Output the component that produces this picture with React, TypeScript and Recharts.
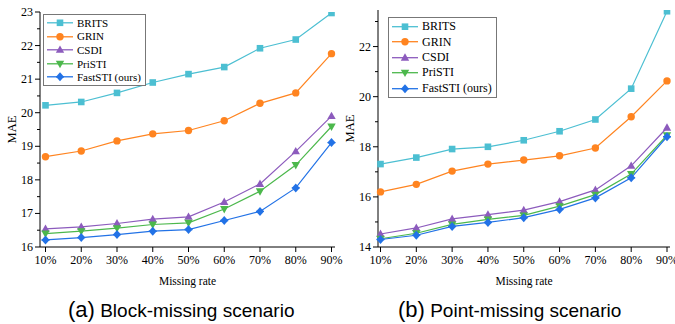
import { LineChart, Line, XAxis, YAxis, Legend } from 'recharts';

const rates = ['10%', '20%', '30%', '40%', '50%', '60%', '70%', '80%', '90%'];

// (a) block-missing
const blockBrits = [20.22, 20.32, 20.59, 20.9, 21.15, 21.36, 21.92, 22.18, 22.97];
const blockGrin = [18.69, 18.86, 19.16, 19.37, 19.47, 19.76, 20.28, 20.59, 21.76];
const blockCsdi = [16.54, 16.6, 16.7, 16.83, 16.9, 17.34, 17.88, 18.85, 19.9];
const blockPristi = [16.4, 16.47, 16.56, 16.67, 16.72, 17.13, 17.66, 18.44, 19.59];
const blockFast = [16.21, 16.28, 16.37, 16.47, 16.52, 16.79, 17.06, 17.76, 19.11];

// (b) point-missing
const pointBrits = [17.31, 17.57, 17.91, 18.0, 18.26, 18.62, 19.09, 20.32, 23.41];
const pointGrin = [16.2, 16.5, 17.03, 17.31, 17.47, 17.64, 17.95, 19.2, 20.63];
const pointCsdi = [14.52, 14.76, 15.12, 15.29, 15.47, 15.81, 16.28, 17.24, 18.76];
const pointPristi = [14.33, 14.55, 14.9, 15.1, 15.26, 15.63, 16.09, 16.91, 18.46];
const pointFast = [14.3, 14.47, 14.82, 14.98, 15.17, 15.5, 15.96, 16.76, 18.4];

const blockTicks = [16, 16.5, 17, 17.5, 18, 18.5, 19, 19.5, 20, 20.5, 21, 21.5, 22, 22.5, 23];
const blockMajor = [16, 17, 18, 19, 20, 21, 22, 23];
const pointTicks = [14, 15, 16, 17, 18, 19, 20, 21, 22, 23];
const pointMajor = [14, 16, 18, 20, 22];

const series = [
  { key: 'BRITS', color: '#4cbfd2', shape: 'square' },
  { key: 'GRIN', color: '#ff8420', shape: 'circle' },
  { key: 'CSDI', color: '#8c5bbd', shape: 'up' },
  { key: 'PriSTI', color: '#4cb84c', shape: 'down' },
  { key: 'FastSTI (ours)', color: '#2272e6', shape: 'diamond' },
];

const toRows = (cols: number[][]) =>
  rates.map((rate, i) => {
    const row: Record<string, any> = { rate };
    series.forEach((s, j) => (row[s.key] = cols[j][i]));
    return row;
  });

const blockData = toRows([blockBrits, blockGrin, blockCsdi, blockPristi, blockFast]);
const pointData = toRows([pointBrits, pointGrin, pointCsdi, pointPristi, pointFast]);

const SERIF = '"Liberation Serif", "Times New Roman", serif';
const TICK = 5;
const GAP = 2;

function Marker({ cx, cy, shape, color }: { cx: number; cy: number; shape: string; color: string }) {
  if (cx == null || cy == null) return null;
  switch (shape) {
    case 'square':
      return <rect x={cx - 3.3} y={cy - 3.3} width={6.6} height={6.6} fill={color} />;
    case 'circle':
      return <circle cx={cx} cy={cy} r={3.7} fill={color} />;
    case 'up':
      return <polygon points={`${cx},${cy - 4.4} ${cx - 4.2},${cy + 3} ${cx + 4.2},${cy + 3}`} fill={color} />;
    case 'down':
      return <polygon points={`${cx},${cy + 4.4} ${cx - 4.2},${cy - 3} ${cx + 4.2},${cy - 3}`} fill={color} />;
    default:
      return (
        <g>
          <polygon points={`${cx},${cy - 4.5} ${cx + 4},${cy} ${cx},${cy + 4.5} ${cx - 4},${cy}`} fill={color} />
          <line x1={cx - 4} x2={cx + 4} y1={cy} y2={cy} stroke={color} strokeWidth={1.4} />
        </g>
      );
  }
}

const makeYTick = (majors: number[]) => (props: any) => {
  const { x, y, payload } = props;
  const ax = x + TICK + GAP;
  const major = majors.includes(payload.value);
  return (
    <g>
      <line x1={ax - (major ? TICK : 3)} x2={ax} y1={y} y2={y} stroke="#000" strokeWidth={1} />
      {major && (
        <text x={x} y={y} textAnchor="end" dominantBaseline="central" fontFamily={SERIF} fontSize={12} fill="#000">
          {payload.value}
        </text>
      )}
    </g>
  );
};

function LegendBox({ rowH, fontSize, lineW }: { rowH: number; fontSize: number; lineW: number }) {
  return (
    <div
      style={{
        border: '1px solid #777',
        background: '#fff',
        padding: '1px 4px 1px 2px',
        fontFamily: SERIF,
        fontSize,
        color: '#000',
      }}
    >
      {series.map((s) => (
        <div key={s.key} style={{ display: 'flex', alignItems: 'center', height: rowH, whiteSpace: 'nowrap' }}>
          <svg width={lineW} height={rowH} style={{ marginRight: 3 }}>
            <line x1={1} x2={lineW - 1} y1={rowH / 2} y2={rowH / 2} stroke={s.color} strokeWidth={1.3} />
            <Marker cx={lineW / 2} cy={rowH / 2} shape={s.shape} color={s.color} />
          </svg>
          <span>{s.key}</span>
        </div>
      ))}
    </div>
  );
}

function Panel({
  data,
  width,
  marginRight,
  domain,
  ticks,
  majors,
  marginTop,
  padding,
  legendPos,
  legendRow,
  legendFont,
}: {
  data: any[];
  width: number;
  marginRight: number;
  domain: [number, number];
  ticks: number[];
  majors: number[];
  marginTop: number;
  padding: { left: number; right: number };
  legendPos: { left: number; top: number };
  legendRow: number;
  legendFont: number;
}) {
  return (
    <LineChart width={width} height={290} data={data} margin={{ top: marginTop, right: marginRight, bottom: 3, left: 0 }}>
      <XAxis
        dataKey="rate"
        padding={padding}
        height={40}
        tickSize={TICK}
        tickMargin={3}
        axisLine={{ stroke: '#000' }}
        tickLine={{ stroke: '#000' }}
        tick={{ fontFamily: SERIF, fontSize: 12, fill: '#000' }}
        interval={0}
        label={{ value: 'Missing rate', position: 'insideBottom', offset: 2, fontFamily: SERIF, fontSize: 11.5, fill: '#000' }}
      />
      <XAxis xAxisId="top" dataKey="rate" orientation="top" height={0} tick={false} tickLine={false} axisLine={{ stroke: '#000' }} />
      <YAxis
        domain={domain}
        ticks={ticks}
        width={40}
        tickSize={TICK}
        tickMargin={GAP}
        tickLine={false}
        axisLine={{ stroke: '#000' }}
        tick={makeYTick(majors)}
        interval={0}
        allowDataOverflow
        label={{ value: 'MAE', angle: -90, position: 'insideLeft', offset: 12, fontFamily: SERIF, fontSize: 12.5, fill: '#000', style: { textAnchor: 'middle' } }}
      />
      <YAxis yAxisId="right" orientation="right" width={0} domain={domain} tick={false} tickLine={false} axisLine={{ stroke: '#333' }} />
      <Legend
        layout="vertical"
        align="center"
        verticalAlign="middle"
        wrapperStyle={{ left: legendPos.left, top: legendPos.top, width: 'auto' }}
        content={() => <LegendBox rowH={legendRow} fontSize={legendFont} lineW={28} />}
      />
      {series.map((s) => (
        <Line
          key={s.key}
          dataKey={s.key}
          stroke={s.color}
          strokeWidth={1.2}
          isAnimationActive={false}
          dot={(p: any) => <Marker key={`${s.key}-${p.index}`} cx={p.cx} cy={p.cy} shape={s.shape} color={s.color} />}
          activeDot={false}
        />
      ))}
    </LineChart>
  );
}

const captionStyle: React.CSSProperties = {
  position: 'absolute',
  top: 297,
  fontFamily: '"Liberation Sans", Arial, sans-serif',
  fontSize: 19,
  color: '#000',
  whiteSpace: 'nowrap',
  lineHeight: '26px',
};

export default function App() {
  return (
    <div style={{ position: 'absolute', left: 0, top: 0, width: 675, height: 324, background: '#fff', overflow: 'hidden' }}>
      <div style={{ position: 'absolute', left: 0, top: 0 }}>
        <Panel
          data={blockData}
          width={352}
          marginRight={17}
          domain={[16, 23]}
          ticks={blockTicks}
          majors={blockMajor}
          marginTop={12}
          padding={{ left: 5.5, right: 3.5 }}
          legendPos={{ left: 43, top: 14 }}
          legendRow={13.6}
          legendFont={11}
        />
      </div>
      <div style={{ position: 'absolute', left: 338, top: 0 }}>
        <Panel
          data={pointData}
          width={350}
          marginRight={18}
          domain={[14, 23.46]}
          ticks={pointTicks}
          majors={pointMajor}
          marginTop={10}
          padding={{ left: 2.5, right: 3 }}
          legendPos={{ left: 50, top: 17 }}
          legendRow={15.4}
          legendFont={12}
        />
      </div>
      <div style={{ ...captionStyle, left: 68 }}>
        <span style={{ fontSize: 22 }}>(a)</span> Block-missing scenario
      </div>
      <div style={{ ...captionStyle, left: 398 }}>
        <span style={{ fontSize: 22 }}>(b)</span> Point-missing scenario
      </div>
    </div>
  );
}
